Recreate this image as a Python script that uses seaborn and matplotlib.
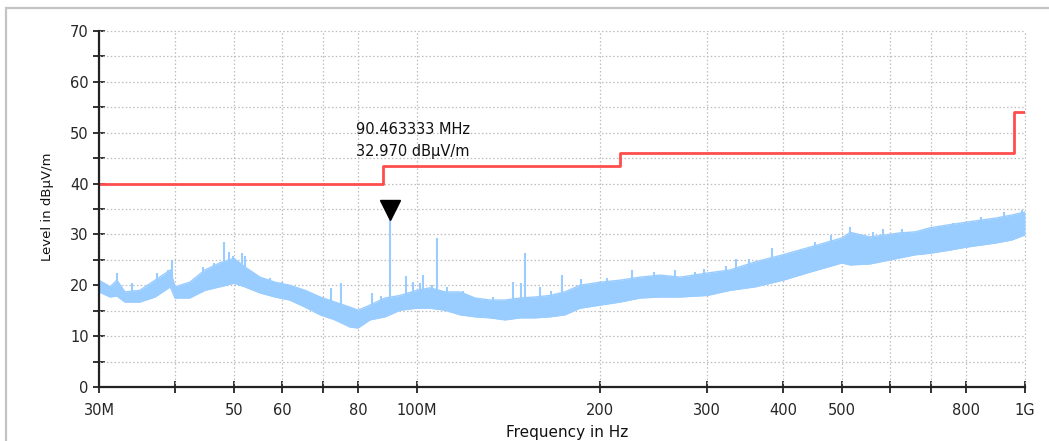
import numpy as np
import pandas as pd
import matplotlib
matplotlib.use("Agg")
import matplotlib.pyplot as plt
from matplotlib.patches import Rectangle
from matplotlib.ticker import FixedLocator, NullLocator
import seaborn as sns

# ---------------- data ----------------
# measured trace: lower / upper envelope of the noisy band (MHz, dBuV/m)
env_freq = [30.0, 31.3, 32.1, 33.1, 35.0, 37.1, 39.3, 40.0, 42.3, 44.8, 47.4,
            50.0, 52.1, 55.2, 58.4, 61.8, 65.5, 69.3, 73.3, 77.6, 80.0, 83.7,
            88.6, 93.8, 100.0, 105.0, 111.2, 117.7, 124.6, 131.9, 139.6, 147.8,
            156.4, 165.5, 175.2, 185.4, 200.0, 215.7, 232.8, 251.0, 271.0,
            300.0, 327.0, 360.0, 400.0, 443.0, 500.0, 516.0, 556.0, 623.0,
            660.0, 698.0, 750.0, 800.0, 893.0, 950.0, 1000.0]
env_low = [18.7, 17.7, 17.9, 16.7, 16.7, 17.7, 19.7, 17.5, 17.5, 19.0, 19.7,
           20.4, 19.7, 18.5, 17.7, 17.1, 15.7, 14.2, 13.2, 11.8, 11.6, 13.2,
           13.8, 15.1, 15.5, 15.5, 15.1, 14.2, 13.8, 13.6, 13.2, 13.6,
           13.6, 13.8, 14.2, 15.5, 16.1, 16.7, 17.5, 17.7, 17.7,
           18.0, 19.0, 19.7, 21.0, 22.6, 24.4, 24.0, 24.2, 25.4,
           26.0, 26.3, 26.9, 27.5, 28.3, 28.9, 29.9]
env_high = [21.0, 19.7, 21.0, 18.7, 19.0, 21.0, 23.0, 19.7, 20.6, 23.0, 24.4,
            25.3, 23.6, 21.6, 20.6, 20.0, 19.0, 17.7, 16.7, 15.7, 15.1, 16.1,
            17.5, 18.0, 19.0, 19.5, 18.7, 18.7, 17.5, 17.1, 17.1, 17.5,
            17.7, 18.0, 18.7, 20.0, 20.6, 21.0, 21.6, 22.0, 21.6,
            22.4, 23.0, 24.6, 26.0, 27.5, 29.3, 30.4, 29.5, 30.3,
            30.5, 31.3, 31.9, 32.4, 33.2, 33.8, 34.4]

# narrow peaks standing out of the noise band
spike_freq = [32.1, 34.0, 37.3, 38.9, 39.6, 44.4, 46.3, 48.1, 49.0, 49.8,
              51.6, 52.2, 54.8, 57.3, 60.1, 63.3, 68.3, 72.2, 75.0, 84.3,
              87.3, 90.463333, 96.1, 98.7, 101.0, 102.3, 105.9, 108.0, 111.9,
              119.0, 133.3, 143.9, 148.3, 150.6, 159.6, 166.0, 172.9, 186.0,
              205.0, 226.0, 245.0, 266.0, 287.0, 296.0, 322.0, 335.0, 352.0,
              384.0, 428.0, 451.0, 480.0, 516.0, 562.0, 585.0, 627.0, 760.0,
              846.0, 925.0, 990.0]
spike_base = [19.0, 18.0, 18.5, 20.0, 20.5, 20.0, 21.0, 21.5, 22.0, 22.0,
              21.0, 21.0, 19.0, 18.5, 18.0, 17.0, 15.5, 15.0, 14.5, 14.5,
              15.5, 16.0, 16.5, 17.0, 17.0, 17.0, 17.0, 16.5, 16.5,
              16.0, 15.0, 15.0, 15.0, 15.0, 15.5, 15.5, 16.0, 17.5,
              18.0, 18.5, 19.0, 19.5, 19.5, 20.0, 20.5, 21.0, 21.5,
              23.0, 24.0, 25.0, 26.0, 27.0, 26.5, 27.0, 27.5, 29.0,
              30.0, 31.0, 32.0]
spike_peak = [22.4, 20.4, 22.4, 23.0, 25.0, 23.6, 24.4, 28.5, 26.5, 25.7,
              26.3, 25.7, 21.4, 21.5, 20.6, 19.5, 18.1, 19.5, 20.5, 18.5,
              17.9, 32.97, 21.8, 20.6, 20.4, 22.0, 20.0, 29.3, 19.7,
              18.9, 17.7, 20.6, 20.4, 26.3, 19.7, 18.9, 22.0, 21.2,
              21.4, 23.0, 22.6, 23.0, 22.6, 23.2, 23.8, 25.2, 25.2,
              27.3, 27.0, 28.5, 29.9, 31.5, 30.5, 31.1, 31.0, 32.2,
              33.4, 34.4, 34.8]

# limit line (steps)
limit_freq = [30.0, 88.0, 216.0, 960.0, 1000.0]
limit_level = [40.0, 43.5, 46.0, 54.0, 54.0]

# marker
marker_freq = 90.463333
marker_level = 32.970

# axis ticks
xtick_vals = [30, 40, 50, 60, 70, 80, 100, 200, 300, 400, 500, 600, 700, 800, 1000]
xtick_labels = ["30M", "", "50", "60", "", "80", "100M", "200", "300", "400",
                "500", "", "", "800", "1G"]
ytick_major = [0, 10, 20, 30, 40, 50, 60, 70]
ytick_minor = [5, 15, 25, 35, 45, 55, 65]

# ---------------- figure ----------------
sns.set_theme(style="white")
plt.rcParams["font.family"] = ["DejaVu Sans"]

fig = plt.figure(figsize=(10.49, 4.41), dpi=100)
ax = fig.add_axes([99 / 1049, 1 - 387 / 441, (1025 - 99) / 1049, (387 - 31) / 441])

# outer grey frame
fig.patches.append(Rectangle((6 / 1049, -0.05), 1.1, 1 - 8 / 441 + 0.05,
                             transform=fig.transFigure, fill=False,
                             edgecolor="#C4C4C4", linewidth=1.6, zorder=0))

blue = "#99CCFF"
red = "#FF4D4D"

ax.set_xscale("log")
ax.set_xlim(30, 1000)
ax.set_ylim(0, 70)

# noisy band
ax.fill_between(env_freq, env_low, env_high, color=blue, linewidth=0, zorder=2)
env_df = pd.DataFrame({"f": env_freq, "lo": env_low, "hi": env_high})
sns.lineplot(data=env_df, x="f", y="lo", ax=ax, color=blue, linewidth=1.0, zorder=2)
sns.lineplot(data=env_df, x="f", y="hi", ax=ax, color=blue, linewidth=1.0, zorder=2)
ax.vlines(spike_freq, spike_base, spike_peak, color=blue, linewidth=1.5, zorder=2)

# limit line
lim_df = pd.DataFrame({"f": limit_freq, "lvl": limit_level})
sns.lineplot(data=lim_df, x="f", y="lvl", ax=ax, color=red, linewidth=2.0,
             drawstyle="steps-post", zorder=3)

# marker
ax.plot([marker_freq], [marker_level + 1.8], marker="v", color="black",
        markersize=15, linestyle="none", zorder=4)
ax.text(79.4, 50.7, "90.463333 MHz", fontsize=10.5, ha="left", va="center",
        color="#111111")
ax.text(79.4, 46.4, "32.970 dBµV/m", fontsize=10.5, ha="left", va="center",
        color="#111111")

# ticks
ax.xaxis.set_major_locator(FixedLocator(xtick_vals))
ax.set_xticklabels(xtick_labels)
ax.xaxis.set_minor_locator(NullLocator())
ax.yaxis.set_major_locator(FixedLocator(ytick_major))
ax.yaxis.set_minor_locator(FixedLocator(ytick_minor))
ax.tick_params(axis="x", which="major", direction="inout", length=9, width=1.3,
               color="#222222", labelsize=10.5, pad=7, bottom=True)
ax.tick_params(axis="y", which="both", direction="inout", length=9, width=1.3,
               color="#222222", labelsize=10.5, pad=3, left=True)

# grid
grid_kw = dict(color="#BDBDBD", linewidth=0.9, linestyle=(0, (1.2, 1.8)))
for gx in xtick_vals:
    ax.axvline(gx, zorder=1, clip_on=False, **grid_kw)
for gy in ytick_major + ytick_minor:
    ax.axhline(gy, zorder=1, clip_on=False, **grid_kw)

for s in ["top", "right"]:
    ax.spines[s].set_visible(False)
for s in ["left", "bottom"]:
    ax.spines[s].set_color("#222222")
    ax.spines[s].set_linewidth(1.6)
    ax.spines[s].set_zorder(5)

ax.set_xlabel("")
ax.set_ylabel("")
fig.text(48 / 1049, 1 - 207 / 441, "Level in dBµV/m", rotation=90, fontsize=9.5,
         ha="center", va="center", color="#111111")
fig.text(567 / 1049, 1 - 433 / 441, "Frequency in Hz", fontsize=11,
         ha="center", va="center", color="#111111")

fig.savefig("out.png", dpi=100)
